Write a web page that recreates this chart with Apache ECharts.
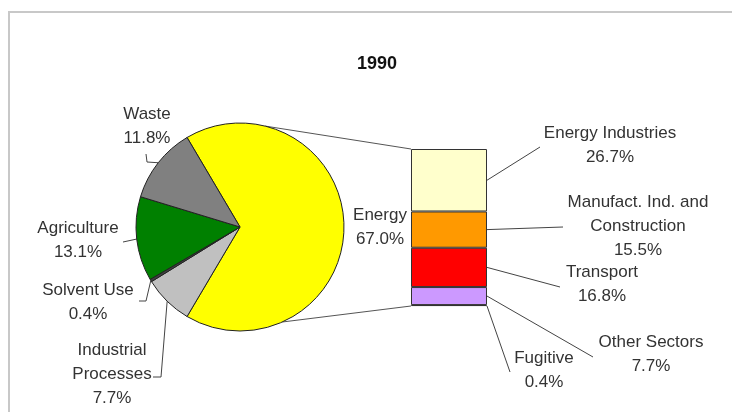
<!DOCTYPE html>
<html><head><meta charset="utf-8">
<script src="https://cdn.jsdelivr.net/npm/echarts@6/dist/echarts.min.js"></script>
<style>html,body{margin:0;padding:0;background:#fff}#c{width:732px;height:412px}</style>
</head><body><div id="c"></div>
<script>
// ---- data ----
const chartTitle = '1990';
const pieNames = ['Energy', 'Industrial Processes', 'Solvent Use', 'Agriculture', 'Waste'];
const pieLabels = ['Energy', 'Industrial\nProcesses', 'Solvent Use', 'Agriculture', 'Waste'];
const pieValues = [67.0, 7.7, 0.4, 13.1, 11.8];
const barNames = ['Fugitive', 'Other Sectors', 'Transport', 'Manufact. Ind. and Construction', 'Energy Industries'];
const barLabels = ['Fugitive', 'Other Sectors', 'Transport', 'Manufact. Ind. and\nConstruction', 'Energy Industries'];
const barValues = [0.4, 7.7, 16.8, 15.5, 26.7];

// ---- styles / layout ----
const FONT = '"Liberation Sans", Arial, sans-serif';
const TXT = '#333';
const LINE = '#444';
const pieColors = ['#FFFF00', '#C0C0C0', '#404040', '#008000', '#808080'];
const barColors = ['#A09060', '#CC99FF', '#FF0000', '#FF9900', '#FFFFCC'];
const CX = 240, CY = 227, R = 104;
const GRID = {left: 411, top: 149, width: 76, height: 157};
const pieLabelPos = [
  {x: 380, y: 203, line: null},
  {x: 112, y: 338, line: [[153, 377], [161, 377]]},
  {x: 88, y: 278, line: [[139, 301], [146, 301]]},
  {x: 78, y: 216, line: [[123, 242], [123, 242]]},
  {x: 147, y: 102, line: [[146, 154], [147, 162]]}
];
const barLabelPos = [
  {x: 544, y: 346, to: [510, 372], edge: 'bottom'},
  {x: 651, y: 330, to: [593, 357], edge: 'mid'},
  {x: 602, y: 260, to: [560, 287], edge: 'mid'},
  {x: 638, y: 190, to: [563, 227], edge: 'mid'},
  {x: 610, y: 121, to: [540, 147], edge: 'mid'}
];

const total = pieValues.reduce((a, b) => a + b, 0);
const startAngle = pieValues[0] / total * 360 / 2;
function midAngle(i) {
  let cum = 0;
  for (let j = 0; j < i; j++) cum += pieValues[j];
  return startAngle - (cum + pieValues[i] / 2) / total * 360;
}
function piePoint(deg) {
  const a = deg * Math.PI / 180;
  return [CX + R * Math.cos(a), CY - R * Math.sin(a)];
}
const barTotal = barValues.reduce((a, b) => a + b, 0);

const textStyle = {fontFamily: FONT, fontSize: 17, lineHeight: 24, color: TXT};

const chart = echarts.init(document.getElementById('c'), null, {renderer: 'canvas'});

const series = [{
  type: 'pie',
  center: [CX, CY],
  radius: R,
  startAngle: startAngle,
  clockwise: true,
  avoidLabelOverlap: false,
  silent: true,
  itemStyle: {borderColor: '#222', borderWidth: 1},
  label: Object.assign({
    show: true, position: 'outside', align: 'center',
    formatter: p => pieLabels[p.dataIndex] + '\n' + p.value.toFixed(1) + '%'
  }, textStyle),
  labelLine: {show: true, lineStyle: {color: LINE, width: 1}},
  labelLayout: function (params) {
    const pos = pieLabelPos[params.dataIndex];
    const out = {x: pos.x, y: pos.y, align: 'center', verticalAlign: 'top', hideOverlap: false};
    if (pos.line) {
      out.labelLinePoints = pos.line.concat([piePoint(midAngle(params.dataIndex))]);
    }
    return out;
  },
  data: pieNames.map((n, i) => ({
    name: n, value: pieValues[i],
    itemStyle: {color: pieColors[i]},
    labelLine: {show: i !== 0}
  }))
}];

barValues.forEach((v, i) => {
  series.push({
    type: 'bar',
    name: barNames[i],
    stack: 'energy',
    barWidth: '100%',
    silent: true,
    data: [v],
    itemStyle: {color: barColors[i], borderColor: '#333', borderWidth: 1},
    label: Object.assign({
      show: true, position: 'right', align: 'center',
      formatter: p => barLabels[i] + '\n' + p.value.toFixed(1) + '%'
    }, textStyle),
    labelLayout: function () {
      const pos = barLabelPos[i];
      return {x: pos.x, y: pos.y, align: 'center', verticalAlign: 'top', hideOverlap: false};
    }
  });
});

const pTop = piePoint(76), pBot = piePoint(-66);
const baseGraphic = [
  {type: 'rect', z: -10, shape: {x: 9, y: 12, width: 760, height: 440},
   style: {fill: null, stroke: '#c8c8c8', lineWidth: 2}},
  {type: 'line', shape: {x1: pTop[0], y1: pTop[1], x2: GRID.left, y2: GRID.top},
   style: {stroke: '#555', lineWidth: 1}},
  {type: 'line', shape: {x1: pBot[0], y1: pBot[1], x2: GRID.left, y2: GRID.top + GRID.height},
   style: {stroke: '#555', lineWidth: 1}}
];

chart.setOption({
  animation: false,
  backgroundColor: '#fff',
  title: {
    text: chartTitle, left: 372, top: 50, textAlign: 'center',
    textStyle: {fontFamily: FONT, fontSize: 18, fontWeight: 'bold', color: '#111'}
  },
  grid: {left: GRID.left, top: GRID.top, width: GRID.width, height: GRID.height, containLabel: false},
  xAxis: {type: 'category', data: ['Energy'], show: false},
  yAxis: {type: 'value', min: 0, max: barTotal, show: false},
  graphic: baseGraphic,
  series: series
});

// leader lines for the bar segments, positioned through the grid's own scale
const leaders = [];
let cum = 0;
barValues.forEach((v, i) => {
  const p0 = chart.convertToPixel({gridIndex: 0}, [0, cum]);
  const p1 = chart.convertToPixel({gridIndex: 0}, [0, cum + v]);
  cum += v;
  const xr = p0[0] + GRID.width / 2;
  const y = barLabelPos[i].edge === 'bottom' ? p0[1] : (p0[1] + p1[1]) / 2;
  leaders.push({type: 'line', shape: {x1: xr, y1: y, x2: barLabelPos[i].to[0], y2: barLabelPos[i].to[1]},
    style: {stroke: LINE, lineWidth: 1}});
});
chart.setOption({graphic: baseGraphic.concat(leaders)});
</script>
</body></html>
